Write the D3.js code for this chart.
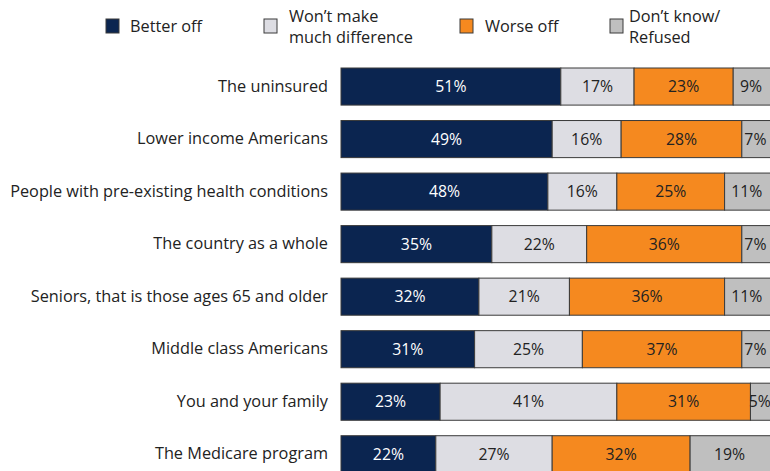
<!DOCTYPE html>
<html><head><meta charset="utf-8">
<script src="https://cdn.jsdelivr.net/npm/d3@7"></script>
<style>
html,body{margin:0;padding:0;background:#fff;overflow:hidden}
text{font-family:"Open Sans",Lato,sans-serif}
</style></head>
<body>
<svg id="chart" width="770" height="471"></svg>
<script>
const categories = ["The uninsured","Lower income Americans","People with pre-existing health conditions","The country as a whole","Seniors, that is those ages 65 and older","Middle class Americans","You and your family","The Medicare program"];
const seriesNames = ["Better off","Won\u2019t make much difference","Worse off","Don\u2019t know/ Refused"];
const betterOff = [51,49,48,35,32,31,23,22];
const noDifference = [17,16,16,22,21,25,41,27];
const worseOff = [23,28,25,36,36,37,31,32];
const dontKnow = [9,7,11,7,11,7,5,19];
const colors = ["#0b2550","#dddde3","#f5891f","#bfbfbf"];
const textColors = ["#ffffff","#222222","#222222","#222222"];
const legendLines = [["Better off"],["Won\u2019t make","much difference"],["Worse off"],["Don\u2019t know/","Refused"]];

const series = [betterOff,noDifference,worseOff,dontKnow];
const rows = categories.map((c,i)=>{const o={cat:c}; series.forEach((s,j)=>o["s"+j]=s[i]); return o;});
const keys = series.map((s,j)=>"s"+j);
const stacked = d3.stack().keys(keys)(rows);

const svg = d3.select("#chart");
const x = d3.scaleLinear().domain([0,100]).range([341,772]);
const y = d3.scaleBand().domain(categories).range([68,472.8]).paddingInner(0.294).paddingOuter(0);

// fit font size so the longest label spans like the reference
const probe = svg.append("text").attr("font-size","15px").text(categories[2]);
const w15 = probe.node().getComputedTextLength();
probe.remove();
const fs = 15*318/w15;

const g = svg.append("g");
stacked.forEach((layer,j)=>{
  const lg = g.append("g");
  lg.selectAll("rect").data(layer).join("rect")
    .attr("x",d=>x(d[0])).attr("y",d=>y(d.data.cat))
    .attr("width",d=>x(d[1])-x(d[0])).attr("height",y.bandwidth())
    .attr("fill",colors[j]).attr("stroke","#3a3a3a").attr("stroke-width",1);
  lg.selectAll("text").data(layer).join("text")
    .attr("x",d=>(x(d[0])+Math.min(x(d[1]),769))/2)
    .attr("y",d=>y(d.data.cat)+y.bandwidth()/2)
    .attr("dy","0.36em").attr("text-anchor","middle")
    .attr("font-size",(fs*0.97)+"px").attr("fill",textColors[j])
    .text(d=>(d[1]-d[0])+"%");
});

// category labels
const yAxis = d3.axisLeft(y).tickSize(0).tickPadding(0);
const ax = svg.append("g").attr("transform","translate(328,0)").call(yAxis);
ax.select(".domain").remove();
ax.selectAll("text").attr("font-size",fs+"px").attr("fill","#222").attr("font-family","'Open Sans',Lato,sans-serif");

// legend
const legendX = [106,264,460,610];
const textX = [130,289,485,629];
const lg = svg.append("g");
legendLines.forEach((lines,j)=>{
  lg.append("rect").attr("x",legendX[j]).attr("y",19).attr("width",13).attr("height",14)
    .attr("fill",colors[j]).attr("stroke","#3a3a3a").attr("stroke-width",1);
  const t = lg.append("text").attr("x",textX[j]).attr("font-size",fs+"px").attr("fill","#222");
  if(lines.length===1){
    t.attr("y",26).attr("dy","0.36em").text(lines[0]);
  } else {
    lines.forEach((l,k)=>t.append("tspan").attr("x",textX[j]).attr("y",16+k*21).attr("dy","0.36em").text(l));
  }
});
</script>
</body></html>
